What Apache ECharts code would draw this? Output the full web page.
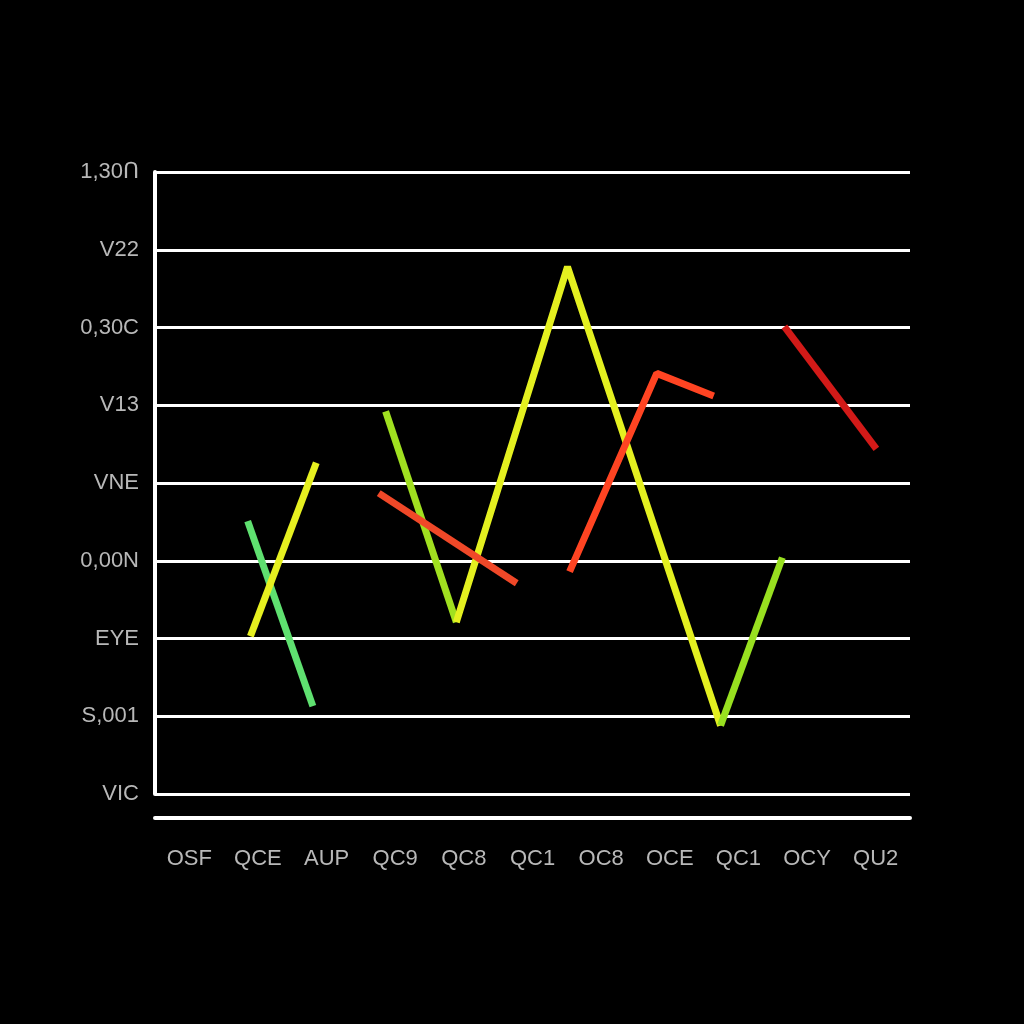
<!DOCTYPE html>
<html><head><meta charset="utf-8">
<script src="https://cdn.jsdelivr.net/npm/echarts@6/dist/echarts.min.js"></script>
<style>html,body{margin:0;background:#000}#c{width:1024px;height:1024px}</style>
</head><body><div id="c"></div>
<script>
const categories = ['OSF','QCE','AUP','QC9','QC8','QC1','OC8','OCE','QC1','OCY','QU2'];
const yLabels = ['VIC','S,001','EYE','0,00N','VNE','V13','0,30C','V22','1,30Ո'];
const greenSeg = [[0.85,3.51],[1.8,1.13]];
const yellowSeg1 = [[0.89,2.03],[1.85,4.26]];
const limeSeg1 = [[2.86,4.92],[3.89,2.21]];
const yellowMain = [[3.89,2.21],[5.51,6.78],[7.74,0.88]];
const limeSeg2 = [[7.74,0.88],[8.64,3.04]];
const redSeg1 = [[2.76,3.87],[4.77,2.71]];
const redSeg2 = [[5.54,2.86],[6.81,5.41],[7.64,5.12]];
const darkRedSeg = [[8.67,6.01],[10.01,4.44]];
const mk = (d,c)=>({type:'line',xAxisIndex:1,data:d,showSymbol:false,lineStyle:{color:c,width:7},z:3});
const chart = echarts.init(document.getElementById('c'));
chart.setOption({
  backgroundColor:'#000',
  grid:{left:155,right:114,top:172,bottom:230},
  xAxis:[
    {type:'category',data:categories,offset:24,axisLine:{onZero:false,lineStyle:{color:'#fff',width:4}},axisTick:{show:false},
     axisLabel:{color:'#b8b8b8',fontSize:22,margin:30,fontFamily:'Liberation Sans'}},
    {type:'value',min:-0.5,max:10.5,show:false}
  ],
  yAxis:{type:'value',min:0,max:8,interval:1,
    axisLine:{show:true,onZero:false,lineStyle:{color:'#fff',width:4}},axisTick:{show:false},
    splitLine:{lineStyle:{color:'#fff',width:3}},
    axisLabel:{color:'#b8b8b8',fontSize:22,margin:16,fontFamily:'Liberation Sans',formatter:(v)=>yLabels[v]}},
  series:[
    mk(greenSeg,'#5fe070'),mk(yellowSeg1,'#e6f020'),mk(limeSeg1,'#a0e020'),
    mk(yellowMain,'#e4f020'),mk(limeSeg2,'#98e020'),mk(redSeg1,'#f04828'),
    mk(redSeg2,'#ff4422'),mk(darkRedSeg,'#d21a18')
  ]
});
</script></body></html>
